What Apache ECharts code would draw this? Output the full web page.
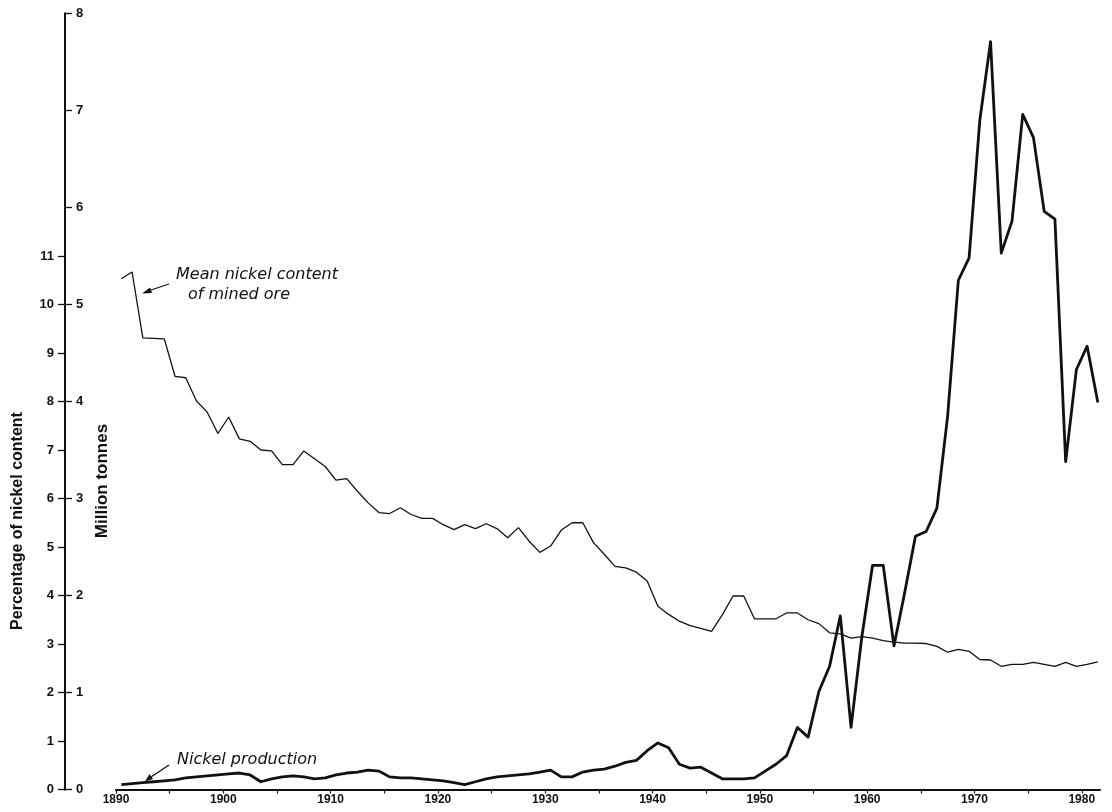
<!DOCTYPE html>
<html>
<head>
<meta charset="utf-8">
<script src="https://cdn.jsdelivr.net/npm/echarts@6/dist/echarts.min.js"></script>
<style>
  html, body { margin: 0; padding: 0; background: #fff; }
  #chart { width: 1112px; height: 812px; }
</style>
</head>
<body>
<div id="chart"></div>
<script>
// ---- data ----
const years = [];
for (let y = 1890; y <= 1981; y++) years.push(y);

// Mean nickel content of mined ore (%)
const nickelContent = [
  10.53, 10.67, 9.31, 9.30, 9.29, 8.52, 8.49, 8.01, 7.78, 7.34,
  7.68, 7.23, 7.18, 7.00, 6.98, 6.70, 6.70, 6.98, 6.82, 6.66,
  6.38, 6.41, 6.15, 5.91, 5.71, 5.69, 5.81, 5.67, 5.59, 5.59,
  5.46, 5.36, 5.46, 5.38, 5.48, 5.38, 5.19, 5.40, 5.12, 4.89,
  5.02, 5.35, 5.50, 5.50, 5.09, 4.85, 4.60, 4.57, 4.48, 4.30,
  3.78, 3.61, 3.47, 3.38, 3.32, 3.26, 3.60, 3.99, 3.99, 3.52,
  3.52, 3.52, 3.64, 3.64, 3.50, 3.42, 3.23, 3.21, 3.12, 3.15,
  3.12, 3.07, 3.04, 3.02, 3.02, 3.01, 2.95, 2.83, 2.89, 2.85,
  2.68, 2.67, 2.54, 2.58, 2.58, 2.62, 2.58, 2.54, 2.62, 2.54,
  2.58, 2.63
];

// Nickel production (million tonnes)
const nickelProduction = [
  0.05, 0.06, 0.07, 0.08, 0.09, 0.10, 0.12, 0.13, 0.14, 0.15,
  0.16, 0.17, 0.15, 0.08, 0.11, 0.13, 0.14, 0.13, 0.11, 0.12,
  0.15, 0.17, 0.18, 0.20, 0.19, 0.13, 0.12, 0.12, 0.11, 0.10,
  0.09, 0.07, 0.05, 0.08, 0.11, 0.13, 0.14, 0.15, 0.16, 0.18,
  0.20, 0.13, 0.13, 0.18, 0.20, 0.21, 0.24, 0.28, 0.30, 0.40,
  0.48, 0.43, 0.26, 0.22, 0.23, 0.17, 0.11, 0.11, 0.11, 0.12,
  0.19, 0.26, 0.35, 0.64, 0.54, 1.01, 1.27, 1.79, 0.64, 1.57,
  2.31, 2.31, 1.48, 2.03, 2.61, 2.66, 2.90, 3.85, 5.25, 5.48,
  6.90, 7.71, 5.53, 5.86, 6.96, 6.72, 5.96, 5.88, 3.38, 4.33,
  4.57, 3.99
];

// tick labels
const xLabelYears = [1890, 1900, 1910, 1920, 1930, 1940, 1950, 1960, 1970, 1980];
const xTickYears = [1890, 1895, 1900, 1905, 1910, 1915, 1920, 1925, 1930, 1935, 1940, 1945, 1950, 1955, 1960, 1965, 1970, 1975, 1980];
const pctTicks = [0, 1, 2, 3, 4, 5, 6, 7, 8, 9, 10, 11];
const tonneTicks = [0, 1, 2, 3, 4, 5, 6, 7, 8];

// annual values plotted at mid-year
const contentSeries = years.map((y, i) => [y + 0.5, nickelContent[i]]);
const productionSeries = years.map((y, i) => [y + 0.5, nickelProduction[i]]);

const ink = '#111';
const tickFont = { color: ink, fontFamily: 'Liberation Sans, Arial, sans-serif', fontWeight: 'bold', fontSize: 13 };
const noteFont = 'italic 16px "DejaVu Sans", sans-serif';

const chart = echarts.init(document.getElementById('chart'), null, { renderer: 'canvas' });

const option = {
  animation: false,
  backgroundColor: '#fff',
  grid: { left: 116, right: 12, top: 13.5, bottom: 22.5, containLabel: false },
  xAxis: {
    type: 'value',
    min: 1890,
    max: 1981.7,
    axisLine: { show: true, lineStyle: { color: ink, width: 2 } },
    axisTick: { show: true, length: 4, lineStyle: { color: ink, width: 1.2 }, customValues: xTickYears },
    axisLabel: { ...tickFont, fontSize: 12, margin: 4, customValues: xLabelYears, formatter: v => String(v) },
    splitLine: { show: false }
  },
  yAxis: [
    {
      type: 'value',
      position: 'left',
      offset: 51,
      min: 0,
      max: 16,
      interval: 1,
      axisLine: { show: true, onZero: false, lineStyle: { color: ink, width: 2 } },
      axisTick: { show: true, length: 7, lineStyle: { color: ink, width: 1.3 }, customValues: pctTicks },
      axisLabel: { ...tickFont, margin: 11, customValues: pctTicks },
      splitLine: { show: false }
    },
    {
      type: 'value',
      position: 'left',
      offset: 51,
      min: 0,
      max: 8,
      interval: 1,
      axisLine: { show: true, onZero: false, lineStyle: { color: ink, width: 2 } },
      axisTick: { show: true, inside: true, length: 7, lineStyle: { color: ink, width: 1.3 }, customValues: tonneTicks },
      axisLabel: { ...tickFont, inside: true, margin: 11, customValues: tonneTicks },
      splitLine: { show: false }
    }
  ],
  series: [
    {
      name: 'Mean nickel content of mined ore',
      type: 'line',
      yAxisIndex: 0,
      data: contentSeries,
      showSymbol: false,
      symbol: 'none',
      lineStyle: { color: ink, width: 1.3 },
      z: 3
    },
    {
      name: 'Nickel production',
      type: 'line',
      yAxisIndex: 1,
      data: productionSeries,
      showSymbol: false,
      symbol: 'none',
      lineStyle: { color: ink, width: 2.8, join: 'round' },
      z: 4
    }
  ],
  graphic: [
    {
      type: 'text', x: 18, y: 521, rotation: Math.PI / 2,
      style: { text: 'Percentage of nickel content', fill: ink, font: 'bold 16px "Liberation Sans", Arial, sans-serif', textAlign: 'center', textVerticalAlign: 'middle' }
    },
    {
      type: 'text', x: 102, y: 481, rotation: Math.PI / 2,
      style: { text: 'Million tonnes', fill: ink, font: 'bold 17px "Liberation Sans", Arial, sans-serif', textAlign: 'center', textVerticalAlign: 'middle' }
    },
    {
      type: 'text', x: 176, y: 275,
      style: { text: 'Mean nickel content', fill: ink, font: noteFont, textAlign: 'left', textVerticalAlign: 'middle' }
    },
    {
      type: 'text', x: 188, y: 295,
      style: { text: 'of mined ore', fill: ink, font: noteFont, textAlign: 'left', textVerticalAlign: 'middle' }
    },
    {
      type: 'text', x: 177, y: 760,
      style: { text: 'Nickel production', fill: ink, font: noteFont, textAlign: 'left', textVerticalAlign: 'middle' }
    },
    { type: 'line', shape: { x1: 169, y1: 284, x2: 145, y2: 292 }, style: { stroke: ink, lineWidth: 1.3 } },
    { type: 'polygon', shape: { points: [[142, 293.5], [150, 287.5], [152, 293]] }, style: { fill: ink } },
    { type: 'line', shape: { x1: 169, y1: 765, x2: 148, y2: 779 }, style: { stroke: ink, lineWidth: 1.3 } },
    { type: 'polygon', shape: { points: [[145, 781.5], [149.5, 774], [153, 779]] }, style: { fill: ink } }
  ]
};

chart.setOption(option);
</script>
</body>
</html>
